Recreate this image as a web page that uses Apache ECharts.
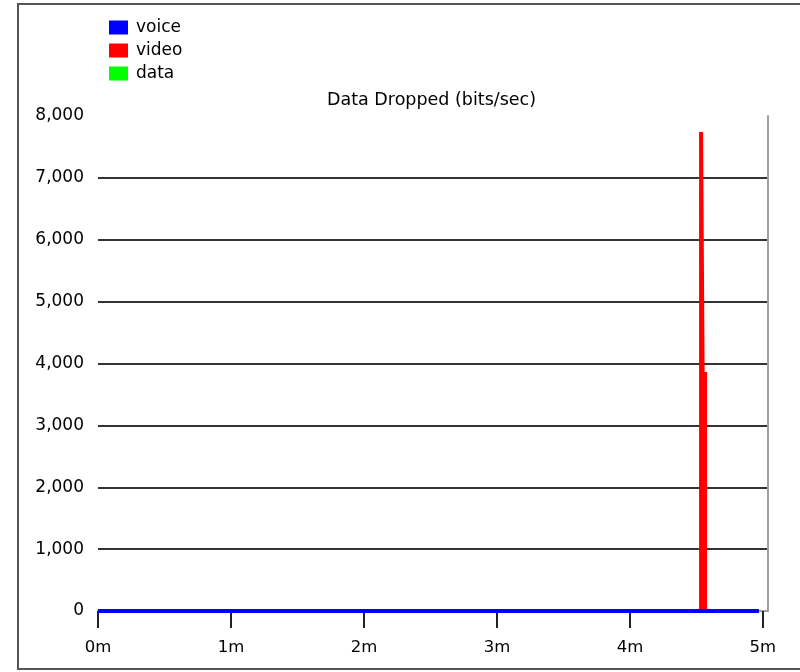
<!DOCTYPE html>
<html>
<head>
<meta charset="utf-8">
<title>Data Dropped</title>
<script src="https://cdn.jsdelivr.net/npm/echarts@6/dist/echarts.min.js"></script>
<style>
  html, body { margin: 0; padding: 0; background: #fff; }
  #chart { width: 800px; height: 672px; }
</style>
</head>
<body>
<div id="chart"></div>
<script>
// time in seconds, drop rate in bits/sec (held until the next sample)
const seriesNames = ['voice', 'video', 'data'];
const seriesColors = ['#0000ff', '#ff0000', '#00ff00'];

const voiceTime = [0, 298.2];
const voiceRate = [0, 0];

const videoTime = [0, 272.1, 272.8, 273.9, 298.2];
const videoRate = [0, 7740, 3830, 0, 0];

const dataTime = [0, 298.2];
const dataRate = [0, 0];

const xTickSec = [0, 60, 120, 180, 240, 300];
const xTickLabels = ['0m', '1m', '2m', '3m', '4m', '5m'];

const FONT = 'DejaVu Sans';

function pairs(xs, ys) {
  return xs.map(function (x, i) {
    return [x, ys[i]];
  });
}

function lineSeries(name, color, z, data) {
  return {
    name: name,
    type: 'line',
    step: 'end',
    showSymbol: false,
    z: z,
    itemStyle: { color: color },
    lineStyle: { width: 4, color: color, join: 'miter' },
    data: data
  };
}

let chart = echarts.init(document.getElementById('chart'));
chart.setOption({
  animation: false,
  backgroundColor: '#fff',
  color: seriesColors,
  title: {
    text: 'Data Dropped (bits/sec)',
    left: 322,
    top: 86,
    textStyle: { fontFamily: FONT, fontSize: 17.5, fontWeight: 'normal', color: '#000' }
  },
  legend: {
    data: seriesNames,
    orient: 'vertical',
    left: 104,
    top: 14,
    icon: 'rect',
    itemWidth: 19,
    itemHeight: 14,
    itemGap: 6,
    selectedMode: false,
    textStyle: { fontFamily: FONT, fontSize: 17, color: '#000', padding: [0, 0, 0, 3] }
  },
  graphic: [
    {
      type: 'rect',
      shape: { x: 18, y: 4, width: 800, height: 665 },
      style: { fill: null, stroke: '#555', lineWidth: 2 },
      silent: true
    }
  ],
  grid: { left: 98, right: 32, top: 116, bottom: 61 },
  xAxis: {
    type: 'value',
    min: 0,
    max: 302.3,
    offset: 4,
    axisLine: { show: true, lineStyle: { color: '#a0a0a0', width: 2 } },
    axisTick: {
      show: true,
      length: 17,
      customValues: xTickSec,
      lineStyle: { color: '#222', width: 2 }
    },
    axisLabel: {
      customValues: xTickSec,
      margin: 24,
      fontFamily: FONT,
      fontSize: 16.5,
      color: '#000',
      formatter: function (value) {
        const i = xTickSec.indexOf(value);
        return i >= 0 ? xTickLabels[i] : '';
      }
    },
    splitLine: { show: false }
  },
  yAxis: [
    {
      type: 'value',
      min: 0,
      max: 8000,
      interval: 1000,
      axisLine: { show: false },
      axisTick: { show: false },
      axisLabel: {
        margin: 14,
        fontFamily: FONT,
        fontSize: 17,
        color: '#000',
        formatter: function (value) {
          return value.toLocaleString('en-US');
        }
      },
      splitLine: {
        show: true,
        showMaxLine: false,
        lineStyle: { color: '#333', width: 2 }
      }
    },
    {
      type: 'value',
      position: 'right',
      min: 0,
      max: 8000,
      interval: 1000,
      axisLine: { show: true, lineStyle: { color: '#a0a0a0', width: 2 } },
      axisTick: { show: false },
      axisLabel: { show: false },
      splitLine: { show: false }
    }
  ],
  series: [
    lineSeries('data', seriesColors[2], 2, pairs(dataTime, dataRate)),
    lineSeries('video', seriesColors[1], 3, pairs(videoTime, videoRate)),
    lineSeries('voice', seriesColors[0], 4, pairs(voiceTime, voiceRate))
  ]
});
</script>
</body>
</html>
